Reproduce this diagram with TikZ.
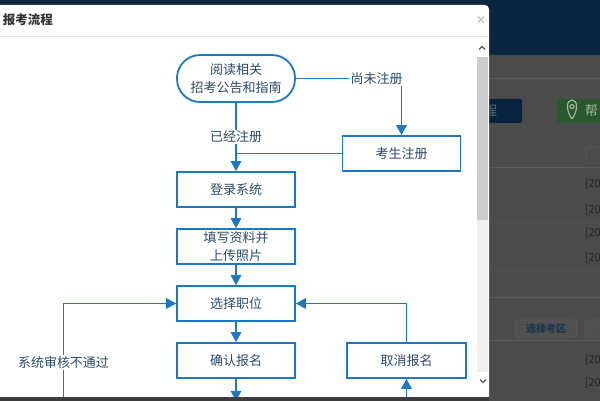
\documentclass[tikz,border=0pt]{standalone}
\usepackage{fontspec}
\setmainfont{Noto Sans CJK SC}
\usepackage{tikz}
\usetikzlibrary{arrows.meta}
\usetikzlibrary{calc}
\usetikzlibrary{positioning}
\definecolor{liucheng}{HTML}{1A78C8}
\definecolor{wenzi}{HTML}{2B4A6B}
\definecolor{zhezhao}{HTML}{4B4B4B}
\definecolor{shenlan}{HTML}{0B2640}
\definecolor{xianhui}{HTML}{5A5A5A}
\definecolor{qianxian}{HTML}{505050}
\definecolor{anniulan}{HTML}{062440}
\definecolor{anniulv}{HTML}{2B572E}
\definecolor{lvzi}{HTML}{9FB59F}
\definecolor{lanzi}{HTML}{5B6D80}
\definecolor{kuanghui}{HTML}{5A5A5A}
\definecolor{heizi}{HTML}{262626}
\definecolor{kaoqu}{HTML}{1D3551}
\definecolor{biaoti}{HTML}{333333}
\definecolor{guanbi}{HTML}{B0B0B0}
\definecolor{fenge}{HTML}{E5E5E5}
\definecolor{gundong}{HTML}{F0F0F0}
\definecolor{huakuai}{HTML}{CDCDCD}
\definecolor{jiantou}{HTML}{555555}
\definecolor{dibian}{HTML}{3D3D3D}
\tikzset{
	baokao/.style = {
		>={Triangle[length=10pt,width=10.5pt]}, line width=1.8pt, color=liucheng,
		node distance=20.2pt, x=1pt, y=-1pt, font=\fontsize{13pt}{18pt}\selectfont,
	},
	kuang/.style = {draw=liucheng, text=wenzi, fill=white, minimum width=118pt,
		minimum height=35pt, inner sep=2pt, align=center},
	yuan/.style = {kuang, rounded corners=23pt, minimum height=47pt},
	biaoqian/.style = {text=wenzi, fill=white, inner sep=1pt},
}

\begin{document}
\begin{tikzpicture}[baokao]
	\useasboundingbox (0,0) rectangle (600,401);
	\clip (0,0) rectangle (600,401);
	% page behind the dialog
	\fill[zhezhao] (0,0) rectangle (600,401);
	\fill[shenlan] (0,0) rectangle (600,55);
	\draw[xianhui, line width=0.8pt] (489,78) -- (600,78) (489,167) -- (600,167)
		(489,297) -- (600,297) (489,340) -- (600,340);
	\draw[qianxian, line width=0.6pt] (489,222) -- (600,222) (489,270) -- (600,270);
	\fill[anniulan, rounded corners=2pt] (470,99) rectangle (522,123);
	\node[text=lanzi] at (490.5,111) {程};
	\fill[anniulv, rounded corners=2pt] (557,99) rectangle (610,123);
	\draw[lvzi, line width=1.2pt] (572,119) .. controls (566,111) and (566,100) .. (572,100)
		.. controls (578,100) and (578,111) .. (572,119);
	\draw[lvzi, line width=1.2pt] (572,106.5) circle[radius=2pt];
	\node[text=lvzi, anchor=west, inner sep=0pt] at (584,111) {帮};
	\draw[kuanghui, fill=zhezhao, line width=0.8pt, rounded corners=2pt] (586,147) rectangle (610,163);
	\foreach \y in {184,210,233,258,360,383}
		\node[text=heizi, anchor=west, inner sep=0pt, font=\fontsize{11pt}{12pt}\selectfont] at (584,\y) {[20};
	\draw[kuanghui, fill=qianxian, line width=0.8pt, rounded corners=2pt] (515,320) rectangle (577,337);
	\draw[kuanghui, fill=qianxian, line width=0.8pt, rounded corners=2pt] (585,320) rectangle (610,337);
	\node[text=kaoqu, font=\fontsize{10pt}{11pt}\bfseries] at (546,328.5) {选择考区};
	% dialog
	\fill[white] (0,397) -- (0,5) [rounded corners=4pt] -- (489,5) [sharp corners] -- (489,397) -- cycle;
	\node[anchor=west, inner sep=0pt, text=biaoti, font=\fontsize{12.5pt}{14pt}\bfseries] at (2,20) {报考流程};
	\draw[guanbi, line width=1pt] (478,16.5) -- (484,22.5) (484,16.5) -- (478,22.5);
	\draw[fenge, line width=1pt] (0,36.5) -- (489,36.5);
	\fill[gundong] (477,57) rectangle (488,372);
	\fill[huakuai] (477,57) rectangle (488,220);
	\draw[jiantou, line width=1.3pt] (479,49.5) -- (482,46.5) -- (485,49.5);
	\draw[jiantou, line width=1.3pt] (480,379.5) -- (483,382.5) -- (486,379.5);
	\begin{scope}
		\clip (0,37) rectangle (476.5,396.5);
		\node[yuan] (yuedu) at (236,78.5) {阅读相关\\招考公告和指南};
		\node[kuang] (denglu) [below=68.2pt of yuedu] {登录系统};
		\node[kuang] (tianxie) [below=of denglu] {填写资料并\\上传照片};
		\node[kuang] (xuanze) [below=of tianxie] {选择职位};
		\node[kuang] (queren) [below=of xuanze] {确认报名};
		\node[kuang, minimum width=119pt] (quxiao) [right=50.2pt of queren] {取消报名};
		\node[kuang] (kaosheng) at (401.5,153.5) {考生注册};
		\node[biaoqian] (weizhuce) at (376.5,78.5) {尚未注册};
		\coordinate[below=22pt of queren] (xiayibu);
		\coordinate[below=22pt of quxiao] (quxiaoxia);
		\coordinate (shenhe) at (63.5,410);

		\draw (yuedu.east) -- (weizhuce.west);
		\draw[->] (weizhuce.south -| kaosheng) -- (kaosheng);
		\draw[->] (yuedu) -- node[biaoqian] {已经注册} (denglu);
		\draw (kaosheng) -- (kaosheng -| denglu);
		\draw[->] (denglu) edge (tianxie) (tianxie) edge (xuanze)
			(xuanze) edge (queren) (queren) edge (xiayibu);
		\draw[->] (quxiaoxia) -- (quxiao);
		\draw[->] (quxiao) |- (xuanze);
		\draw[->] (shenhe) |- node[biaoqian, pos=0.223] {系统审核不通过} (xuanze);
	\end{scope}
	\fill[dibian] (0,397) rectangle (489,401);
\end{tikzpicture}
\end{document}
